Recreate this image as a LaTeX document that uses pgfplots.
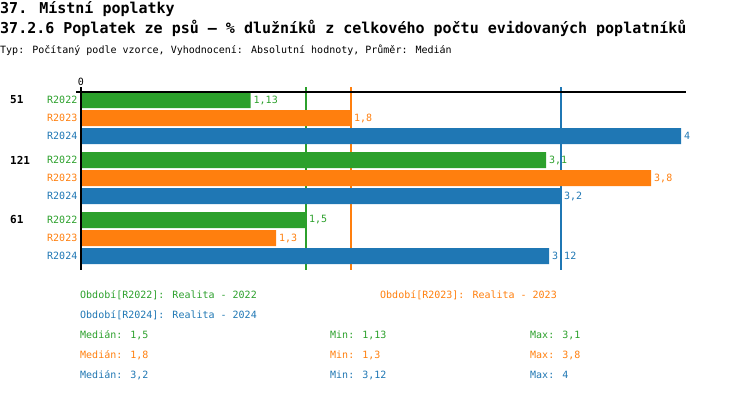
\documentclass[border=0pt]{standalone}
\usepackage{pgfplots}
\pgfplotsset{compat=1.18}
\usepackage{fontspec}
\setmainfont{DejaVu Sans Mono}
\definecolor{cg}{HTML}{2CA02C}
\definecolor{co}{HTML}{FF7F0E}
\definecolor{cb}{HTML}{1F77B4}
\newcommand{\ft}{\fontsize{10}{12}\selectfont}
\begin{document}
\begin{tikzpicture}
\useasboundingbox (0pt,0pt) rectangle (750pt,392pt);
\node[anchor=base west,inner sep=0pt,font=\fontsize{15}{18}\selectfont\bfseries] at (0pt,378.5pt) {37. Místní poplatky};
\node[anchor=base west,inner sep=0pt,font=\fontsize{15}{18}\selectfont\bfseries] at (0pt,359pt) {37.2.6 Poplatek ze psů – \% dlužníků z celkového počtu evidovaných poplatníků};
\node[anchor=base west,inner sep=0pt,font=\ft] at (0pt,338pt) {Typ: Počítaný podle vzorce, Vyhodnocení: Absolutní hodnoty, Průměr: Medián};
\begin{axis}[
  at={(81pt,122pt)}, anchor=south west, scale only axis,
  width=605pt, height=183pt,
  xmin=0, xmax=4.0333, ymin=-270, ymax=-87,
  axis line style={draw=none}, tick style={draw=none}, major tick length=0pt,
  xtick=\empty,
  ytick={-100,-118,-136,-160,-178,-196,-220,-238,-256},
  yticklabels={\textcolor{cg}{R2022},\textcolor{co}{R2023},\textcolor{cb}{R2024},
               \textcolor{cg}{R2022},\textcolor{co}{R2023},\textcolor{cb}{R2024},
               \textcolor{cg}{R2022},\textcolor{co}{R2023},\textcolor{cb}{R2024}},
  yticklabel style={font=\ft, inner sep=0pt, xshift=-3.5pt},
  extra y ticks={-100,-160,-220},
  extra y tick labels={\textbf{51},\textbf{121},\textbf{61}},
  extra y tick style={yticklabel style={anchor=west, xshift=-67.5pt, font=\fontsize{11}{12}\selectfont}},
  clip=false,
  /pgf/number format/assume math mode=true,
  /pgf/number format/use comma,
  nodes near coords style={anchor=west, inner sep=0pt, xshift=3pt, font=\ft},
]
\addplot[draw=cg, line width=1.15pt, mark=none] coordinates {(1.5,-87) (1.5,-270)};
\addplot[draw=co, line width=1.15pt, mark=none] coordinates {(1.8,-87) (1.8,-270)};
\addplot[draw=cb, line width=1.15pt, mark=none] coordinates {(3.2,-87) (3.2,-270)};
\addplot[xbar, bar shift=0pt, bar width=16, fill=cg, draw=none, point meta=x,
  nodes near coords, nodes near coords style={text=cg}]
  coordinates {(1.13,-100) (3.1,-160) (1.5,-220)};
\addplot[xbar, bar shift=0pt, bar width=16, fill=co, draw=none, point meta=x,
  nodes near coords, nodes near coords style={text=co}]
  coordinates {(1.8,-118) (3.8,-178) (1.3,-238)};
\addplot[xbar, bar shift=0pt, bar width=16, fill=cb, draw=none, point meta=x,
  nodes near coords, nodes near coords style={text=cb}]
  coordinates {(4,-136) (3.2,-196) (3.12,-256)};
\draw[black, line width=2pt] (axis cs:-0.033,-92) -- (axis cs:4.0333,-92);
\draw[black, line width=2pt] (axis cs:0,-87) -- (axis cs:0,-270);
\node[anchor=base, inner sep=0pt, font=\fontsize{10}{11}\selectfont] at (axis cs:0,-85.5) {0};
\end{axis}
\node[anchor=base west,inner sep=0pt,font=\ft,text=cg] at (80pt,94pt) {Období[R2022]: Realita - 2022};
\node[anchor=base west,inner sep=0pt,font=\ft,text=co] at (380pt,94pt) {Období[R2023]: Realita - 2023};
\node[anchor=base west,inner sep=0pt,font=\ft,text=cb] at (80pt,74pt) {Období[R2024]: Realita - 2024};
\node[anchor=base west,inner sep=0pt,font=\ft,text=cg] at (80pt,54pt) {Medián: 1,5};
\node[anchor=base west,inner sep=0pt,font=\ft,text=cg] at (330pt,54pt) {Min: 1,13};
\node[anchor=base west,inner sep=0pt,font=\ft,text=cg] at (530pt,54pt) {Max: 3,1};
\node[anchor=base west,inner sep=0pt,font=\ft,text=co] at (80pt,34pt) {Medián: 1,8};
\node[anchor=base west,inner sep=0pt,font=\ft,text=co] at (330pt,34pt) {Min: 1,3};
\node[anchor=base west,inner sep=0pt,font=\ft,text=co] at (530pt,34pt) {Max: 3,8};
\node[anchor=base west,inner sep=0pt,font=\ft,text=cb] at (80pt,14pt) {Medián: 3,2};
\node[anchor=base west,inner sep=0pt,font=\ft,text=cb] at (330pt,14pt) {Min: 3,12};
\node[anchor=base west,inner sep=0pt,font=\ft,text=cb] at (530pt,14pt) {Max: 4};
\end{tikzpicture}
\end{document}
